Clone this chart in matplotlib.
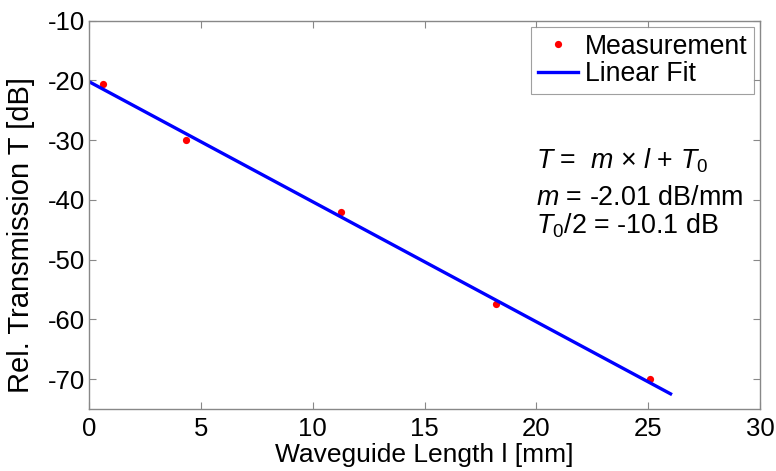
import numpy as np
import matplotlib
matplotlib.use("Agg")
import matplotlib.pyplot as plt

plt.rcParams['font.family'] = ['Liberation Sans', 'DejaVu Sans']
plt.rcParams['mathtext.fontset'] = 'custom'
plt.rcParams['mathtext.rm'] = 'Liberation Sans'
plt.rcParams['mathtext.it'] = 'Liberation Sans:italic'
plt.rcParams['axes.unicode_minus'] = False

# measured transmission vs. waveguide length
length_mm = [0.63, 4.34, 11.27, 18.19, 25.09]
transmission_db = [-20.6, -30.0, -42.0, -57.4, -70.0]

# linear fit parameters
slope = -2.01
t0 = -20.2
fit_x = [0, 26]

fs = 18.5

fig = plt.figure(figsize=(7.76, 4.71), dpi=100)
ax = fig.add_axes([0.1147, 0.1316, 0.8647, 0.8244])

ax.plot(length_mm, transmission_db, 'o', color='red', markersize=5.2,
        markeredgewidth=0, label='Measurement')
fx = np.array(fit_x)
ax.plot(fx, slope * fx + t0, '-', color='blue', linewidth=2.4, label='Linear Fit')

ax.set_xlim(0, 30)
ax.set_ylim(-75, -10)
ax.set_xticks([0, 5, 10, 15, 20, 25, 30])
ax.set_yticks([-70, -60, -50, -40, -30, -20, -10])
ax.tick_params(direction='in', top=True, right=True, length=5, width=0.8,
               color='#888888', labelsize=fs)
ax.tick_params(axis='x', pad=6)
ax.tick_params(axis='y', pad=3)
for s in ax.spines.values():
    s.set_color('#888888')
    s.set_linewidth(1.0)

ax.set_xlabel('Waveguide Length l [mm]', fontsize=19)
ax.set_ylabel('Rel. Transmission T [dB]', fontsize=21)
ax.xaxis.set_label_coords(0.5, -0.088)
ax.yaxis.set_label_coords(-0.08, 0.447)

leg = ax.legend(loc='upper right', bbox_to_anchor=(0.991, 0.984), fontsize=19.2,
                frameon=True, fancybox=False, borderpad=0.25, handlelength=1.5,
                handletextpad=0.25, labelspacing=0.05, borderaxespad=0,
                numpoints=1)
leg.get_frame().set_edgecolor('#888888')
leg.get_frame().set_linewidth(0.8)

afs = 19.4
ax.text(20.0, -34.8, r'$T$ =  $m$ $\times$ $l$ + $T_{\mathit{0}}$', fontsize=afs, va='baseline')
ax.text(20.0, -40.9, r'$m$ = -2.01 dB/mm', fontsize=afs, va='baseline')
ax.text(20.0, -45.6, r'$T_{\mathit{0}}$/2 = -10.1 dB', fontsize=afs, va='baseline')

fig.savefig('out.png', dpi=100)
